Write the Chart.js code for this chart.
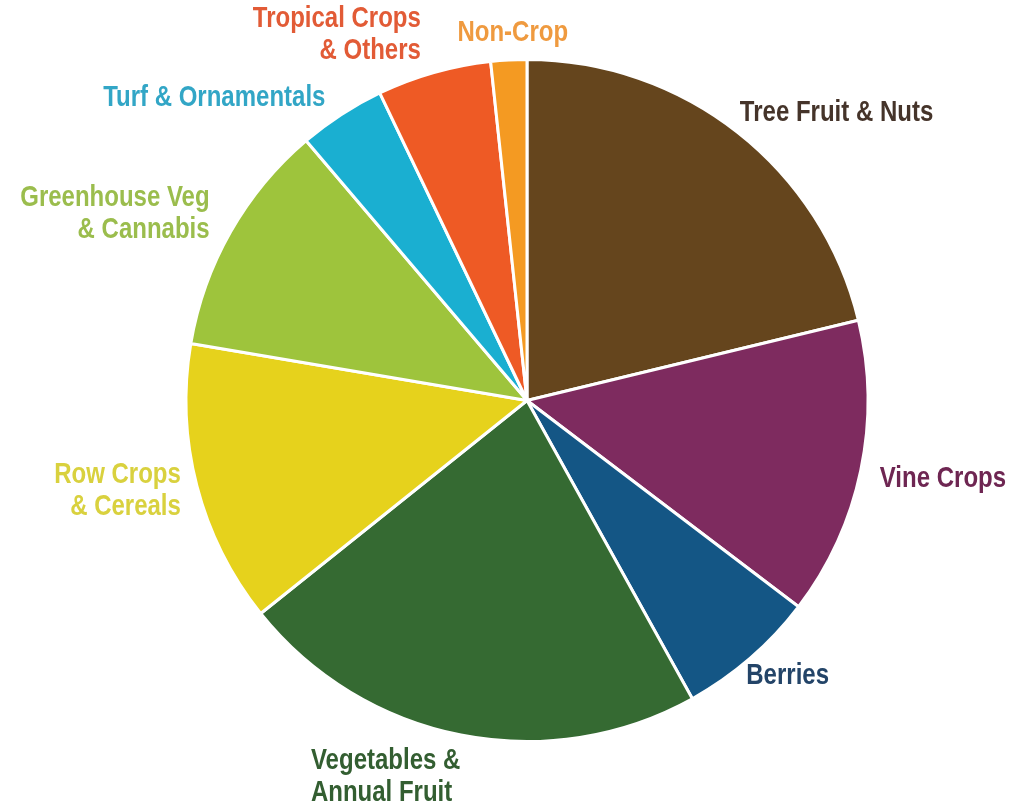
<!DOCTYPE html>
<html>
<head>
<meta charset="utf-8">
<script src="https://cdn.jsdelivr.net/npm/chart.js@4.4.1/dist/chart.umd.min.js"></script>
<style>
  html, body { margin: 0; padding: 0; background: #fff; }
  #wrap { width: 1011px; height: 809px; }
</style>
</head>
<body>
<div id="wrap"><canvas id="chart" width="1011" height="809"></canvas></div>
<script>
// categories, clockwise from 12 o'clock
const categories = [
    ['Tree Fruit & Nuts'],
    ['Vine Crops'],
    ['Berries'],
    ['Vegetables &', 'Annual Fruit'],
    ['Row Crops', '& Cereals'],
    ['Greenhouse Veg', '& Cannabis'],
    ['Turf & Ornamentals'],
    ['Tropical Crops', '& Others'],
    ['Non-Crop']
];
const shares = [21.2, 14.1, 6.6, 22.3, 13.4, 11.1, 4.1, 5.4, 1.7];

const sliceColors = ['#65451d', '#7e2b5f', '#145685', '#356a32', '#e6d21c', '#9ec43c', '#1aafd1', '#ee5a25', '#f49a22'];
const textColors = ['#45342a', '#6e2652', '#234468', '#335e31', '#d9d13e', '#9bbd4d', '#32a6c6', '#e25b36', '#ef9a3f'];

// label placement relative to the point on the rim at each slice's mid angle
const labelAlign = ['left', 'left', 'left', 'left', 'right', 'right', 'right', 'right', 'center'];
const labelShift = [[2, -20], [19, 8], [-4, 17], [-150, 42], [-16, 5], [-21, -18], [-16, -17], [-13, -38], [4, -27]];

// condensed look: regular bold face squeezed horizontally
const squeeze = 0.8;

const outsideLabels = {
    id: 'outsideLabels',
    afterDraw(chart) {
        const ctx = chart.ctx;
        const meta = chart.getDatasetMeta(0);
        meta.data.forEach((arc, i) => {
            const mid = (arc.startAngle + arc.endAngle) / 2;
            const x = arc.x + Math.cos(mid) * arc.outerRadius + labelShift[i][0];
            const y = arc.y + Math.sin(mid) * arc.outerRadius + labelShift[i][1];
            const lines = categories[i];
            const lineHeight = 32;
            ctx.save();
            ctx.translate(x, y);
            ctx.scale(squeeze, 1);
            ctx.font = 'bold 30px "Liberation Sans", Arial, sans-serif';
            ctx.textBaseline = 'middle';
            ctx.fillStyle = textColors[i];
            ctx.textAlign = labelAlign[i];
            lines.forEach((line, j) => {
                ctx.fillText(line, 0, (j - (lines.length - 1) / 2) * lineHeight);
            });
            ctx.restore();
        });
    }
};

new Chart(document.getElementById('chart'), {
    type: 'pie',
    data: {
        labels: categories.map(c => c.join(' ')),
        datasets: [{
            data: shares,
            backgroundColor: sliceColors,
            borderColor: '#ffffff',
            borderWidth: 3
        }]
    },
    plugins: [outsideLabels],
    options: {
        responsive: false,
        animation: false,
        layout: { padding: { left: 150, right: 107, top: 58, bottom: 66 } },
        plugins: {
            legend: { display: false },
            tooltip: { enabled: false }
        }
    }
});
</script>
</body>
</html>
